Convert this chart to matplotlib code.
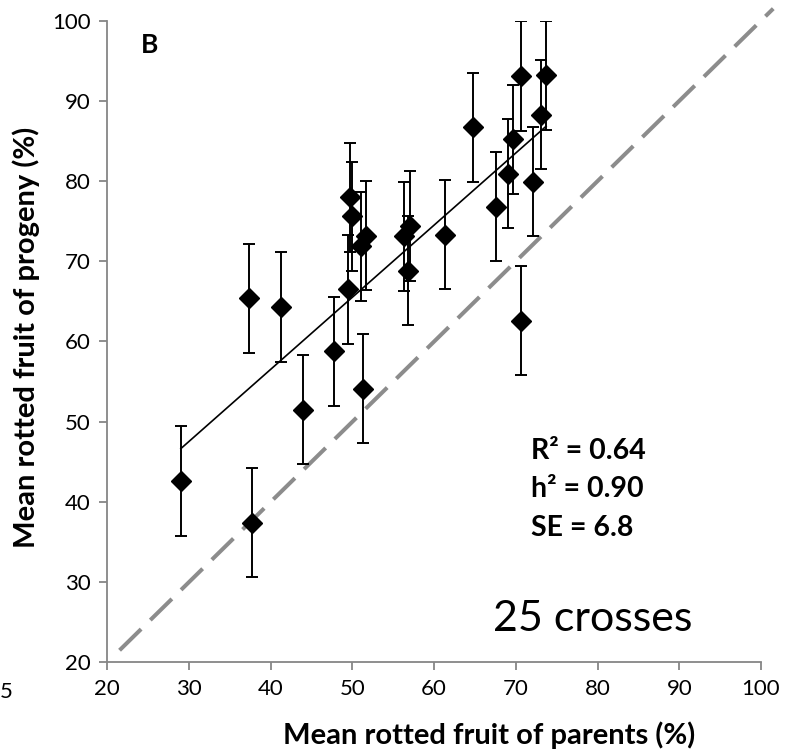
"""
Progeny vs parent rotted fruit, panel B.
"""
import numpy as np
from matplotlib import pyplot

pyplot.rcParams["font.family"] = ["Lato", "DejaVu Sans"]

# mean rotted fruit of parents (%) and of progeny (%), one per cross
parents = [29.0, 37.7, 44.0, 47.8, 51.3, 37.4, 41.2, 49.4, 49.7, 50.0,
           51.1, 51.7, 56.3, 57.1, 56.8, 61.3, 64.8, 67.6, 69.0, 69.6,
           70.6, 72.1, 73.1, 73.7, 70.6]
progeny = [42.6, 37.4, 51.5, 58.8, 54.1, 65.4, 64.3, 66.5, 78.0, 75.6,
           71.9, 73.2, 73.1, 74.4, 68.8, 73.3, 86.7, 76.8, 80.9, 85.2,
           93.1, 79.9, 88.3, 93.2, 62.6]
se = 6.8
stats_lines = ["R\u00b2 = 0.64", "h\u00b2 = 0.90", "SE = 6.8"]
ticks = [20, 30, 40, 50, 60, 70, 80, 90, 100]
one_to_one = [21.5, 101.5]

GREY = "#868686"


def main():
    fig = pyplot.figure(figsize=(7.89, 7.55), dpi=100)
    ax = fig.add_axes([0.136, 0.1228, 0.8285, 0.8498])

    x = np.array(parents)
    y = np.array(progeny)

    # 1:1 line
    ax.plot(one_to_one, one_to_one, color="#8c8c8c", lw=2.9,
            dashes=(7.5, 3.2), clip_on=False, zorder=1)

    # regression line over the data range
    slope, icpt = np.polyfit(x, y, 1)
    xs = np.array([x.min(), x.max()])
    ax.plot(xs, slope * xs + icpt, color="black", lw=1.2, zorder=2)

    ax.errorbar(x, y, yerr=se, fmt="D", color="black", ms=10, ecolor="black",
                elinewidth=1.4, capsize=4.3, capthick=1.4, zorder=3)

    ax.set_xlim(20, 100)
    ax.set_ylim(20, 100)
    ax.set_xticks(ticks)
    ax.set_yticks(ticks)
    for s in ("top", "right"):
        ax.spines[s].set_visible(False)
    for s in ("left", "bottom"):
        ax.spines[s].set_color(GREY)
        ax.spines[s].set_linewidth(1.3)
    ax.tick_params(length=6, width=1.3, color=GREY, labelsize=16, pad=6)

    ax.text(25.2, 97.0, "B", fontsize=19, fontweight="bold", va="center",
            ha="center")
    for i, line in enumerate(stats_lines):
        ax.text(71.9, 46.4 - i * 4.8, line, fontsize=20.5, fontweight="bold",
                va="center", ha="left")
    ax.text(79.4, 25.4, "25 crosses", fontsize=31, va="center", ha="center")

    fig.text(0.62, 0.026, "Mean rotted fruit of parents (%)", fontsize=21,
             fontweight="bold", ha="center", va="center")
    fig.text(0.033, 0.553, "Mean rotted fruit of progeny (%)", fontsize=21,
             fontweight="bold", ha="center", va="center", rotation=90)

    # fragment of neighbouring panel at left edge
    fig.text(0.0, 0.083, "5", fontsize=16, ha="left", va="center")

    fig.savefig("out.png", dpi=100)
    pyplot.close(fig)


if __name__ == "__main__":
    main()
